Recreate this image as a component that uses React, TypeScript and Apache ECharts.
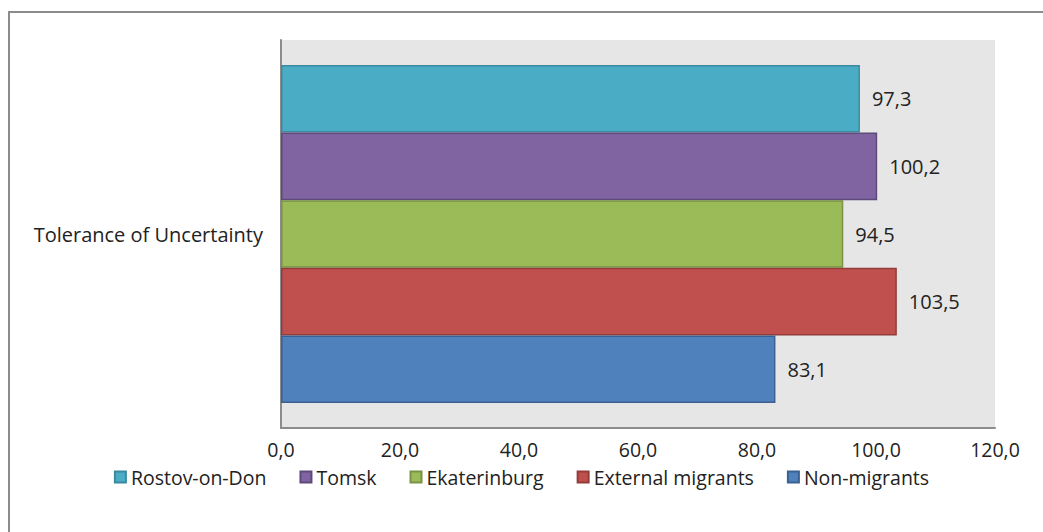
import React, { useEffect, useRef } from "react";
import * as echarts from "echarts";

const categories = ["Tolerance of Uncertainty"];
const seriesNames = ["Rostov-on-Don", "Tomsk", "Ekaterinburg", "External migrants", "Non-migrants"];
const rostov = [97.3];
const tomsk = [100.2];
const ekaterinburg = [94.5];
const external = [103.5];
const nonMigrants = [83.1];
const colors = ["#4BACC6", "#8064A2", "#9BBB59", "#C0504D", "#4F81BD"];
const borders = ["#3A8A9F", "#5E4A7A", "#789343", "#943C3A", "#3A6192"];

const fmt = (v: number) => v.toFixed(1).replace(".", ",");

export default function App() {
  const ref = useRef<HTMLDivElement>(null);
  useEffect(() => {
    if (!ref.current) return;
    const chart = echarts.init(ref.current, null, { renderer: "svg" });
    const values = [rostov, tomsk, ekaterinburg, external, nonMigrants];
    const font = "'Open Sans', Lato, sans-serif";
    chart.setOption({
      animation: false,
      textStyle: { fontFamily: font },
      graphic: [
        {
          type: "rect",
          shape: { x: 9, y: 12, width: 1100, height: 600 },
          style: { fill: "none", stroke: "#8c8c8c", lineWidth: 2 },
          z: -10,
        },
      ],
      legend: {
        data: seriesNames,
        bottom: 40,
        left: "center",
        itemWidth: 11,
        itemHeight: 11,
        itemGap: 33,
        icon: "rect",
        textStyle: { fontSize: 19.5, color: "#222", fontFamily: font, padding: [0, 0, 0, 0], lineHeight: 19 },
      },
      grid: {
        left: 281,
        right: 48,
        top: 40,
        bottom: 104,
        show: true,
        backgroundColor: "#e6e6e6",
        borderWidth: 0,
      },
      xAxis: {
        type: "value",
        min: 0,
        max: 120,
        interval: 20,
        axisLine: { show: true, lineStyle: { color: "#8c8c8c", width: 2 } },
        axisTick: { show: false },
        splitLine: { show: false },
        axisLabel: { formatter: (v: number) => fmt(v), fontSize: 19.5, lineHeight: 19, color: "#222", margin: 12, fontFamily: font },
      },
      yAxis: {
        type: "category",
        data: categories,
        inverse: true,
        axisLine: { show: true, lineStyle: { color: "#8c8c8c", width: 2 } },
        axisTick: { show: false },
        axisLabel: { fontSize: 20, color: "#222", margin: 18, fontFamily: font },
      },
      series: seriesNames.map((name, i) => ({
        name,
        type: "bar",
        data: values[i],
        barGap: "0%",
        barCategoryGap: "12.9%",
        itemStyle: { color: colors[i], borderColor: borders[i], borderWidth: 1.5 },
        label: {
          show: true,
          position: "right",
          distance: 12,
          formatter: (p: any) => fmt(p.value),
          fontSize: 20,
          color: "#222",
          fontFamily: font,
        },
      })),
    });
    return () => chart.dispose();
  }, []);
  return (
    <div
      ref={ref}
      style={{ position: "fixed", left: 0, top: 0, width: 1043, height: 532, background: "#fff" }}
    />
  );
}
